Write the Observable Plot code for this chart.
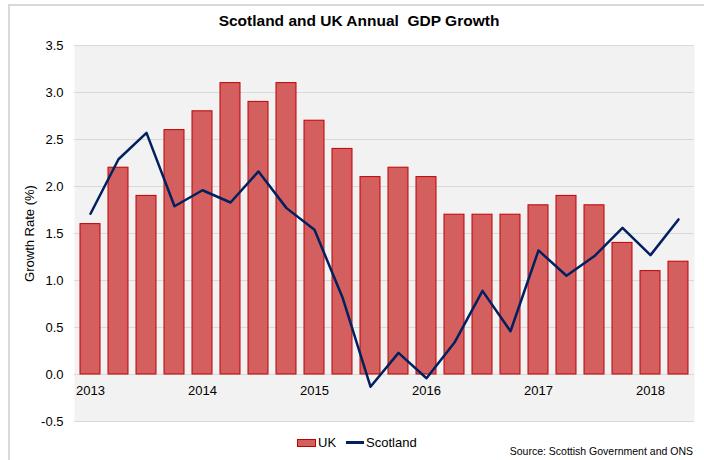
<!DOCTYPE html>
<html><head><meta charset="utf-8">
<script src="https://cdn.jsdelivr.net/npm/d3@7"></script>
<script src="https://cdn.jsdelivr.net/npm/@observablehq/plot@0.6"></script>
<style>
body{margin:0;background:#fff;font-family:"Liberation Sans",Arial,sans-serif;color:#000;}
#wrap{position:relative;width:704px;height:460px;overflow:hidden;}
#border{position:absolute;left:8px;top:4px;width:720px;height:480px;border:2px solid #d9d9d9;box-sizing:border-box;}
#title{position:absolute;left:0;top:12px;width:718px;text-align:center;font-weight:bold;font-size:15.5px;}
#chart{position:absolute;left:0;top:32px;}
#legend{position:absolute;top:435px;left:297px;font-size:13px;display:flex;align-items:center;}
.sw{display:inline-block;width:19px;height:8px;background:#d45f5f;border:1px solid #c00000;box-sizing:border-box;margin-right:2px;}
.ln{display:inline-block;width:18px;height:2.5px;background:#002060;margin:0 2px 0 10px;}
#source{position:absolute;top:445px;right:11px;font-size:10.5px;}
</style>
</head><body>
<div id="wrap">
<div id="border"></div>
<div id="title">Scotland and UK Annual&nbsp; GDP Growth</div>
<div id="chart"></div>
<div id="legend"><span class="sw"></span>UK<span class="ln"></span>Scotland</div>
<div id="source">Source: Scottish Government and ONS</div>
</div>
<script>
const quarters = ["2013 Q1","2013 Q2","2013 Q3","2013 Q4","2014 Q1","2014 Q2","2014 Q3","2014 Q4",
  "2015 Q1","2015 Q2","2015 Q3","2015 Q4","2016 Q1","2016 Q2","2016 Q3","2016 Q4",
  "2017 Q1","2017 Q2","2017 Q3","2017 Q4","2018 Q1","2018 Q2"];
const ukGrowth = [1.6,2.2,1.9,2.6,2.8,3.1,2.9,3.1,2.7,2.4,2.1,2.2,2.1,1.7,1.7,1.7,1.8,1.9,1.8,1.4,1.1,1.2];
const scotlandGrowth = [1.71,2.29,2.57,1.79,1.96,1.83,2.16,1.77,1.54,0.82,-0.13,0.23,-0.04,0.34,0.89,0.46,1.32,1.05,1.26,1.56,1.27,1.65];
const yearLabels = ["2013","2014","2015","2016","2017","2018"];
const yTicks = [-0.5,0,0.5,1,1.5,2,2.5,3,3.5];

const data = quarters.map((q,i)=>({q, uk: ukGrowth[i], scot: scotlandGrowth[i]}));

const chart = Plot.plot({
  width: 704,
  height: 400,
  marginLeft: 74,
  marginRight: 10,
  marginTop: 13,
  marginBottom: 11,
  style: {fontFamily: "Liberation Sans, Arial, sans-serif", fontSize: "13px", color: "#000", background: "transparent"},
  x: {type: "band", domain: quarters, paddingInner: 0.29, paddingOuter: 0.145, axis: null},
  y: {domain: [-0.5, 3.5]},
  marks: [
    Plot.frame({fill: "#f2f2f2", stroke: "none"}),
    Plot.gridY(yTicks, {stroke: "#d9d9d9", strokeOpacity: 1, strokeWidth: 1}),
    Plot.barY(data, {x: "q", y: "uk", fill: "#d45f5f", stroke: "#c00000", strokeWidth: 1}),
    Plot.lineY(data, {x: "q", y: "scot", stroke: "#002060", strokeWidth: 2.5}),
    Plot.text(yearLabels, {x: d => d + " Q1", y: () => 0, dy: 16, text: d => d, fontSize: 13}),
    Plot.axisY(yTicks, {tickSize: 0, tickPadding: 11, tickFormat: d => d.toFixed(1),
      label: "Growth Rate (%)", labelAnchor: "center", labelOffset: 50, labelArrow: "none"})
  ]
});
document.getElementById("chart").appendChild(chart);
</script>
</body></html>
